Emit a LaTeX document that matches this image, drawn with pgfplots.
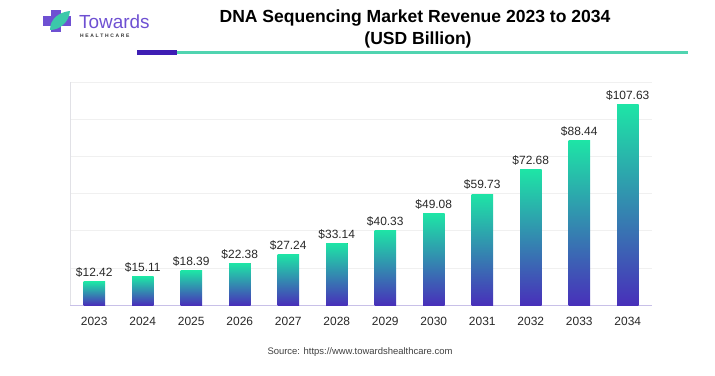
\documentclass[border=0pt]{standalone}
\usepackage{pgfplots}
\pgfplotsset{compat=1.18}
\usepackage{fontspec}
\setmainfont{Liberation Sans}
\definecolor{tealtop}{RGB}{30,228,166}
\definecolor{tealmid}{RGB}{42,168,172}
\definecolor{purpbot}{RGB}{72,48,186}
\definecolor{logopurple}{RGB}{110,80,210}
\definecolor{linepurple}{RGB}{62,30,180}
\definecolor{lineteal}{RGB}{80,212,176}
\definecolor{leafteal}{RGB}{60,200,170}
\definecolor{txt}{RGB}{40,40,40}
\definecolor{gridc}{RGB}{240,240,240}
\definecolor{xaxisc}{RGB}{200,192,232}
\definecolor{yaxisc}{RGB}{225,225,230}
\begin{document}
\begin{tikzpicture}[x=1bp,y=1bp]
\useasboundingbox (0,0) rectangle (715,375);
% logo
\fill[logopurple] (51,375-32) rectangle (61,375-10);
\fill[logopurple] (43,375-26) rectangle (71,375-16);
\fill[leafteal] (50,375-30) .. controls (50,375-18) and (60,375-12) .. (70,375-11) .. controls (69,375-22) and (60,375-30) .. cycle;
\node[anchor=base west, inner sep=0, text=logopurple, font=\fontsize{19}{20}\selectfont] at (79,375-28) {Towards};
\node[anchor=base west, inner sep=0, text=black!80, font=\fontsize{5}{6}\selectfont\bfseries] at (80,375-37.5) {H\,\,E\,\,A\,\,L\,\,T\,\,H\,\,C\,\,A\,\,R\,\,E};
% title
\node[anchor=center, inner sep=0, text=black, font=\fontsize{17.6}{19}\selectfont\bfseries] at (415,375-18) {DNA Sequencing Market Revenue 2023 to 2034};
\node[anchor=center, inner sep=0, text=black, font=\fontsize{17.6}{19}\selectfont\bfseries] at (418,375-40) {(USD Billion)};
% rule
\fill[lineteal] (177,375-54) rectangle (688,375-51);
\fill[linepurple] (137,375-54.5) rectangle (177,375-49.5);
% source
\node[anchor=center, inner sep=0, text=black!75, font=\fontsize{9.5}{11}\selectfont] at (360,375-352) {Source: https://www.towardshealthcare.com};
\begin{axis}[
  at={(70bp,70bp)}, anchor=south west,
  scale only axis, width=582bp, height=223bp,
  xmin=-0.5, xmax=11.5, ymin=0, ymax=120,
  axis x line*=bottom, axis y line*=left,
  x axis line style={color=xaxisc, line width=0.8pt, -},
  y axis line style={color=yaxisc, line width=0.8pt, -},
  xtick={0,...,11},
  xticklabels={2023,2024,2025,2026,2027,2028,2029,2030,2031,2032,2033,2034},
  ytick={20,40,60,80,100,120}, yticklabels={},
  major tick length=0pt,
  ymajorgrids, grid style={color=gridc, line width=0.6pt},
  xticklabel style={font=\fontsize{12}{13}\selectfont, text=txt, yshift=-9bp},
  ybar, bar width=21.5bp, bar shift=0pt,
  nodes near coords={\$\pgfmathprintnumber[fixed, fixed zerofill, precision=2, assume math mode=true]{\pgfplotspointmeta}},
  nodes near coords style={font=\fontsize{12}{13}\selectfont, text=txt, inner sep=2bp, yshift=2bp},
  every axis plot/.append style={draw=none, top color=tealtop, middle color=tealmid, bottom color=purpbot, shading angle=0},
]
\addplot coordinates {(0,12.42)};
\addplot coordinates {(1,15.11)};
\addplot coordinates {(2,18.39)};
\addplot coordinates {(3,22.38)};
\addplot coordinates {(4,27.24)};
\addplot coordinates {(5,33.14)};
\addplot coordinates {(6,40.33)};
\addplot coordinates {(7,49.08)};
\addplot coordinates {(8,59.73)};
\addplot coordinates {(9,72.68)};
\addplot coordinates {(10,88.44)};
\addplot coordinates {(11,107.63)};
\end{axis}
\end{tikzpicture}
\end{document}
